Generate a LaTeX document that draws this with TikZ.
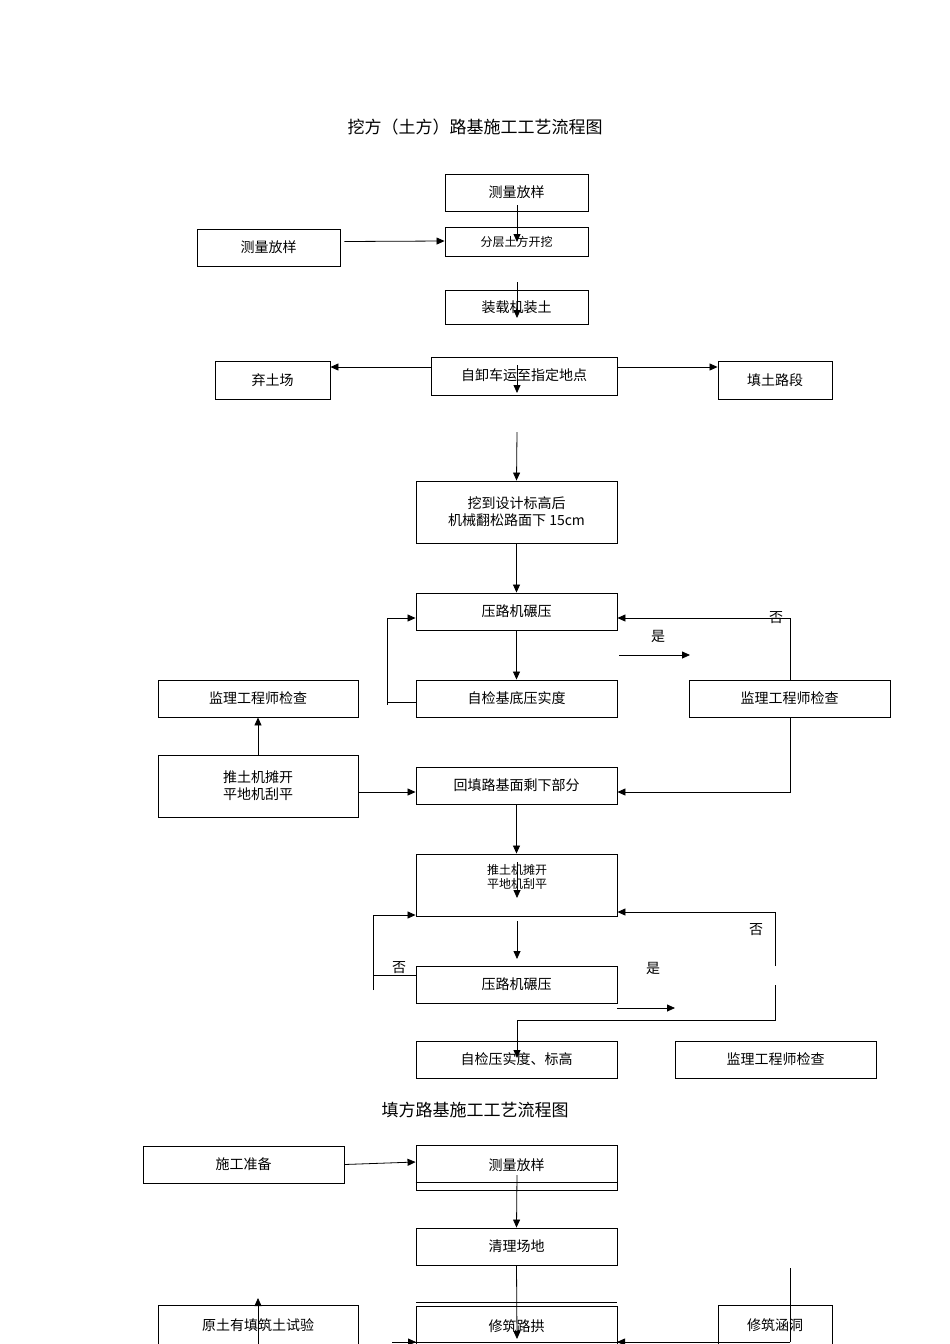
\documentclass[tikz,border=0pt]{standalone}
\usepackage{fontspec}
\setmainfont{Noto Sans CJK SC}
\usetikzlibrary{arrows.meta}
\begin{document}
\begin{tikzpicture}[x=1pt,y=-1pt,
  bx/.style={draw,line width=0.9pt,font=\fontsize{14}{17}\selectfont,align=center,inner sep=0pt},
  ar/.style={-{Triangle[length=8pt,width=7pt]},line width=0.8pt},
  ln/.style={line width=0.8pt},
  lb/.style={font=\fontsize{14}{16}\selectfont},
  tt/.style={font=\fontsize{17}{20}\selectfont}]
\useasboundingbox (0,0) rectangle (950,1344);
\newcommand\bx[6]{\node[bx,minimum width=#4-#2,minimum height=#5-#3] (#1) at ({(#2+#4)/2},{(#3+#5)/2}) {#6};}
\node[tt] (t1) at (475,127) {挖方（土方）路基施工工艺流程图};
\bx{A}{445}{174}{588}{211}{测量放样}
\bx{B}{445}{227}{588}{256}{\fontsize{12}{14}\selectfont 分层土方开挖}
\bx{C}{197}{229}{340}{266}{测量放样}
\bx{D}{445}{290}{588}{324}{装载机装土}
\node[bx,minimum width=186,minimum height=38] (E) at (524,376) {\raisebox{3pt}{自卸车运至指定地点}};
\bx{F}{215}{361}{330}{399}{弃土场}
\bx{G}{718}{361}{832}{399}{填土路段}
\bx{H}{416}{481}{617}{543}{挖到设计标高后\\机械翻松路面下 15cm}
\bx{I}{416}{593}{617}{630}{压路机碾压}
\bx{J}{416}{680}{617}{717}{自检基底压实度}
\bx{K}{158}{680}{358}{717}{监理工程师检查}
\bx{L}{689}{680}{890}{717}{监理工程师检查}
\bx{M}{158}{755}{358}{817}{推土机摊开\\平地机刮平}
\bx{N}{416}{767}{617}{804}{回填路基面剩下部分}
\bx{O}{416}{854}{617}{916}{}
\node[font=\fontsize{12}{14}\selectfont,align=center] (Ot) at (517,877) {推土机摊开\\平地机刮平};
\bx{P}{416}{966}{617}{1003}{压路机碾压}
\bx{Q}{416}{1041}{617}{1078}{自检压实度、标高}
\bx{R}{675}{1041}{876}{1078}{监理工程师检查}
\node[tt] (t2) at (475,1110) {填方路基施工工艺流程图};
\bx{S}{143}{1146}{344}{1183}{施工准备}
\node[bx,minimum width=201,minimum height=45] (T) at (516.5,1167.5) {\raisebox{6pt}{测量放样}};
\draw[ln] (T.west |- 0,1182) -- (T.east |- 0,1182);
\bx{U}{416}{1228}{617}{1265}{清理场地}
\bx{V}{158}{1305}{358}{1350}{\raisebox{5pt}{原土有填筑土试验}}
\bx{W}{416}{1306}{617}{1350}{\raisebox{4pt}{修筑路拱}}
\draw[ln] (416,1302) -- (617,1302);
\bx{X}{718}{1305}{832}{1350}{\raisebox{5pt}{修筑涵洞}}
% connectors
\draw[ar] (517,205) -- (517,242);
\draw[ar] (C.east) ++(4,-6) -- (B.west |- 0,241);
\draw[ar] (517,282) -- (517,318);
\draw[ar] (517,365) -- (517,393);
\draw[ar] (E.west |- 0,367) -- (F.east |- 0,367);
\draw[ar] (E.east |- 0,367) -- (G.west |- 0,367);
\draw[ar] (517,432) -- (H.north);
\draw[ar] (H.south) -- (I.north);
\draw[ar] (I.south) -- (J.north);
\draw[ln] (J.west |- 0,702) -- (387,702) -- (387,618);
\draw[ln] (387,702) -- (387,705);
\draw[ar] (387,618) -- (I.west |- 0,618);
\node[lb] (y1) at (658,636) {是};
\coordinate (y1a) at (619,655); \coordinate (y1b) at (690,655);
\draw[ar] (y1a) -- (y1b);
\draw[ar] (L.north -| 790,0) -- (790,618) -- (I.east |- 0,618);
\node[lb] (n1) at (776,618) {否};
\draw[ar] (M.north) -- (K.south);
\draw[ar] (M.east |- 0,792) -- (N.west |- 0,792);
\draw[ar] (L.south -| 790,0) -- (790,792) -- (N.east |- 0,792);
\draw[ar] (N.south) -- (O.north);
\draw[ar] (517,862) -- (517,898);
\draw[ar] (517,921) -- (517,959);
\draw[ln] (373,990) -- (373,915);
\draw[ar] (373,915) -- (O.west |- 0,915);
\draw[ln] (373,975) -- (P.west |- 0,975);
\node[lb] (n2) at (399,968) {否};
\draw[ar] (775,966) -- (775,912) -- (O.east |- 0,912);
\node[lb] (n3) at (756,930) {否};
\node[lb] (y2) at (653,968) {是};
\coordinate (y2a) at (617,1008); \coordinate (y2b) at (675,1008);
\draw[ar] (y2a) -- (y2b);
\draw[ln] (775,985) -- (775,1020) -- (517,1020);
\draw[ar] (517,1020) -- (517,1058);
\draw[ar] (S.east) -- (T.west |- 0,1162);
\draw[ar] (517,1175) -- (U.north);
\draw[ar] (U.south) -- (517,1339);
\draw[ar] (258,1344) -- (258,1298);
\draw[ln] (790,1268) -- (790,1342);
\draw[ln] (392,1342) -- (790,1342);
\draw[ar] (392,1342) -- (416,1342);
\draw[ar] (700,1342) -- (617,1342);
\end{tikzpicture}
\end{document}
